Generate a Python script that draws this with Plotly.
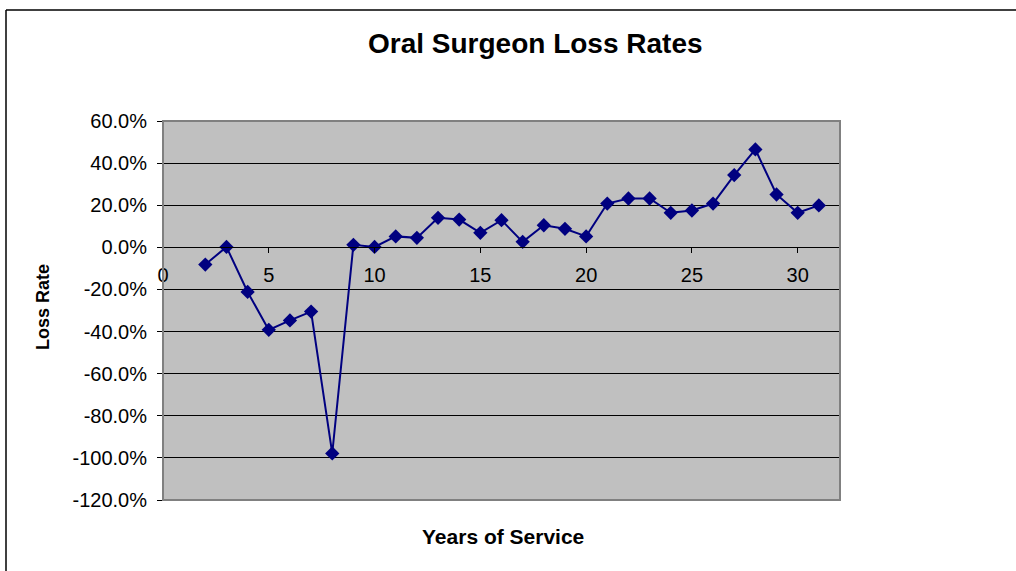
import plotly.graph_objects as go

# Loss rate by years of service
years = list(range(2, 32))
loss_rates = [-0.082, 0.002, -0.212, -0.392, -0.347, -0.305, -0.979, 0.012, 0.002, 0.052,
              0.045, 0.140, 0.132, 0.069, 0.129, 0.026, 0.105, 0.088, 0.052, 0.208,
              0.232, 0.232, 0.164, 0.175, 0.208, 0.343, 0.465, 0.251, 0.164, 0.199]
y_ticks = [0.6, 0.4, 0.2, 0.0, -0.2, -0.4, -0.6, -0.8, -1.0, -1.2]
x_ticks = [0, 5, 10, 15, 20, 25, 30]

W, H = 1016, 571
L, R, T, B = 163, 176, 121, 71
FONT = "Liberation Sans, Arial, sans-serif"
Y_MIN, Y_MAX = -1.2, 0.6


def px_x(px):
    return (px - L) / (W - L - R)


def px_y(py):
    return (H - B - py) / (H - T - B)


def pct_label(v):
    # plain ASCII hyphen for negatives
    return f"{v * 100:.1f}%".replace("-0.0", "0.0")


fig = go.Figure()
fig.add_trace(go.Scatter(
    x=years, y=loss_rates, mode="lines+markers",
    line=dict(color="#000080", width=2),
    marker=dict(symbol="diamond", size=11, color="#000080"),
    showlegend=False, hoverinfo="x+y",
))

fig.update_layout(
    width=W, height=H,
    margin=dict(l=L, r=R, t=T, b=B),
    paper_bgcolor="white", plot_bgcolor="#C0C0C0",
    font=dict(family=FONT, size=20, color="black"),
    xaxis=dict(
        range=[0, 32], tickvals=x_ticks, ticktext=[str(v) for v in x_ticks],
        anchor="free", position=(0 - Y_MIN) / (Y_MAX - Y_MIN),
        showline=True, linecolor="black", linewidth=1,
        ticks="outside", ticklen=5, tickcolor="black",
        ticklabelstandoff=5,
        showgrid=False, zeroline=False,
        tickfont=dict(size=20),
    ),
    yaxis=dict(
        range=[Y_MIN, Y_MAX], tickvals=y_ticks,
        ticktext=[pct_label(v) for v in y_ticks],
        showline=True, linecolor="black", linewidth=1,
        ticks="outside", ticklen=5, tickcolor="black",
        ticklabelstandoff=6,
        showgrid=True, gridcolor="black", gridwidth=1,
        zeroline=False, tickfont=dict(size=20),
    ),
    shapes=[
        # plot area frame
        dict(type="rect", xref="paper", yref="paper", x0=0, x1=1, y0=0, y1=1,
             line=dict(color="#808080", width=2), layer="above"),
        # chart frame (top and left edges)
        dict(type="line", xref="paper", yref="paper",
             x0=px_x(6), x1=px_x(1016), y0=px_y(10), y1=px_y(10),
             line=dict(color="black", width=1.5)),
        dict(type="line", xref="paper", yref="paper",
             x0=px_x(6), x1=px_x(6), y0=px_y(10), y1=px_y(571),
             line=dict(color="black", width=1.5)),
    ],
    annotations=[
        dict(text="<b>Oral Surgeon Loss Rates</b>", xref="paper", yref="paper",
             x=px_x(535), y=px_y(43), xanchor="center", yanchor="middle",
             showarrow=False, font=dict(size=28, family=FONT)),
        dict(text="<b>Years of Service</b>", xref="paper", yref="paper",
             x=px_x(503), y=px_y(536), xanchor="center", yanchor="middle",
             showarrow=False, font=dict(size=21, family=FONT)),
        dict(text="<b>Loss Rate</b>", xref="paper", yref="paper",
             x=px_x(43), y=px_y(307), xanchor="center", yanchor="middle",
             showarrow=False, textangle=-90, font=dict(size=18, family=FONT)),
    ],
)

fig.write_html("out.html")
